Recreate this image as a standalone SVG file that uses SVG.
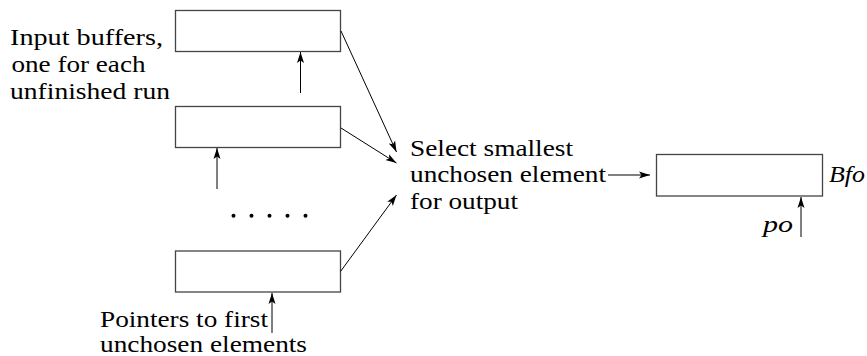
<svg xmlns="http://www.w3.org/2000/svg" width="867" height="356" viewBox="0 0 867 356">
<style>
.box{fill:#fff;stroke:#444;stroke-width:1.3}
.ln{fill:none;stroke:#000;stroke-width:1}
.i{font-style:italic}
</style>
<defs>
<marker id="ah" markerUnits="userSpaceOnUse" markerWidth="12" markerHeight="8" refX="11" refY="4" orient="auto">
<path d="M0,0.5 L11,4 L0,7.5 L2.5,4 Z" fill="#000"/>
</marker>
</defs>
<rect width="867" height="356" fill="#fff"/>
<g id="buf1"><rect class="box" x="175.5" y="10.5" width="165" height="41"/></g>
<g id="buf2"><rect class="box" x="175.5" y="106.5" width="165" height="41"/></g>
<g id="buf3"><rect class="box" x="175.5" y="251" width="165" height="41"/></g>
<g id="out"><rect class="box" x="656.5" y="154.5" width="166" height="41.5"/></g>
<g id="labels" font-family="'Liberation Serif', 'DejaVu Serif', serif" font-size="24" fill="#000" lengthAdjust="spacingAndGlyphs">
<text x="10" y="45" textLength="153" lengthAdjust="spacingAndGlyphs">Input buffers,</text>
<text x="11.5" y="72" textLength="134" lengthAdjust="spacingAndGlyphs">one for each</text>
<text x="10" y="98.5" textLength="160" lengthAdjust="spacingAndGlyphs">unfinished run</text>
<text x="410" y="155.5" textLength="163" lengthAdjust="spacingAndGlyphs">Select smallest</text>
<text x="410" y="182" textLength="196" lengthAdjust="spacingAndGlyphs">unchosen element</text>
<text x="410" y="208.5" textLength="108" lengthAdjust="spacingAndGlyphs">for output</text>
<text x="100" y="326.5" textLength="168" lengthAdjust="spacingAndGlyphs">Pointers to first</text>
<text x="100" y="351.5" textLength="207" lengthAdjust="spacingAndGlyphs">unchosen elements</text>
<text class="i" x="829" y="182" textLength="36" lengthAdjust="spacingAndGlyphs">Bfo</text>
<text class="i" x="763" y="232" textLength="30" lengthAdjust="spacingAndGlyphs">po</text>
</g>
<g id="dots" fill="#000">
<circle cx="233.5" cy="215.7" r="2"/>
<circle cx="251.5" cy="215.7" r="2"/>
<circle cx="269.5" cy="215.7" r="2"/>
<circle cx="287.5" cy="215.7" r="2"/>
<circle cx="305.5" cy="215.7" r="2"/>
</g>
<g id="connectors" class="ln" marker-end="url(#ah)">
<line x1="300.5" y1="93" x2="300.5" y2="52"/>
<line x1="217" y1="189" x2="217" y2="148"/>
<line x1="272" y1="333" x2="272" y2="293"/>
<line x1="801" y1="237" x2="801" y2="197"/>
<line x1="608" y1="175" x2="650" y2="175"/>
<line x1="341" y1="31" x2="396.5" y2="152"/>
<line x1="341" y1="128" x2="396.5" y2="163"/>
<line x1="340.5" y1="271.5" x2="396.5" y2="195"/>
</g>
</svg>
